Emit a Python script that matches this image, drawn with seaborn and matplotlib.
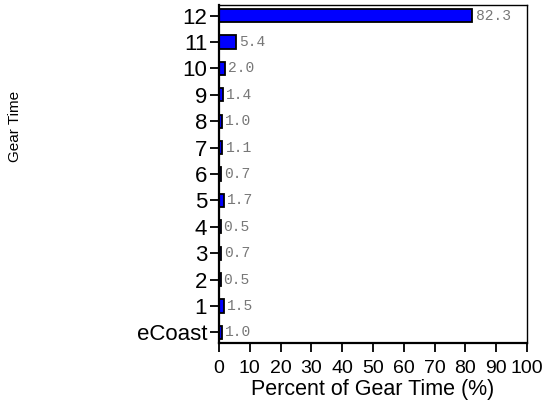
import numpy as np
import pandas as pd
import matplotlib
matplotlib.use("Agg")
import matplotlib.pyplot as plt
import seaborn as sns

gears = ['12', '11', '10', '9', '8', '7', '6', '5', '4', '3', '2', '1', 'eCoast']
percent = [82.3, 5.4, 2.0, 1.4, 1.0, 1.1, 0.7, 1.7, 0.5, 0.7, 0.5, 1.5, 1.0]
xticks = [0, 10, 20, 30, 40, 50, 60, 70, 80, 90, 100]

df = pd.DataFrame({'gear': gears, 'pct': percent})

sns.set_style('ticks', rc={'axes.edgecolor': 'black', 'xtick.color': 'black',
                           'ytick.color': 'black', 'text.color': 'black',
                           'axes.labelcolor': 'black'})
plt.rcParams['font.family'] = ['Liberation Sans', 'DejaVu Sans']

fig = plt.figure(figsize=(5.46, 4.08), dpi=100)
# axes box: left 219px, right 527px, top 5px, bottom 343px
ax = fig.add_axes([219 / 546, 1 - 343 / 408, 308 / 546, 338 / 408])

sns.barplot(data=df, x='pct', y='gear', order=gears, orient='h',
            color='#0000ff', saturation=1, edgecolor='black', linewidth=1.3,
            width=0.5, ax=ax)

for i, v in enumerate(percent):
    ax.text(v + 1.0, i, f'{v:.1f}', va='center', ha='left',
            fontsize=10.5, color='#777777', family='Liberation Mono')

ax.set_xlim(0, 100)
ax.set_ylim(12.4, -0.4)
ax.set_xticks(xticks)
ax.set_xticklabels([str(t) for t in xticks], fontsize=14)
ax.tick_params(axis='y', labelsize=16, length=6.5, width=1.3, pad=2)
ax.tick_params(axis='x', length=6.5, width=1.3, pad=6)

for s in ['left', 'bottom']:
    ax.spines[s].set_linewidth(1.6)
for s in ['top', 'right']:
    ax.spines[s].set_linewidth(1.0)
    ax.spines[s].set_visible(True)

ax.set_xlabel('Percent of Gear Time (%)', fontsize=15.5, labelpad=1)
ax.set_ylabel('Gear Time', fontsize=11)
ax.yaxis.set_label_coords(-197 / 308, 0.64)

fig.savefig('out.png', dpi=100)
